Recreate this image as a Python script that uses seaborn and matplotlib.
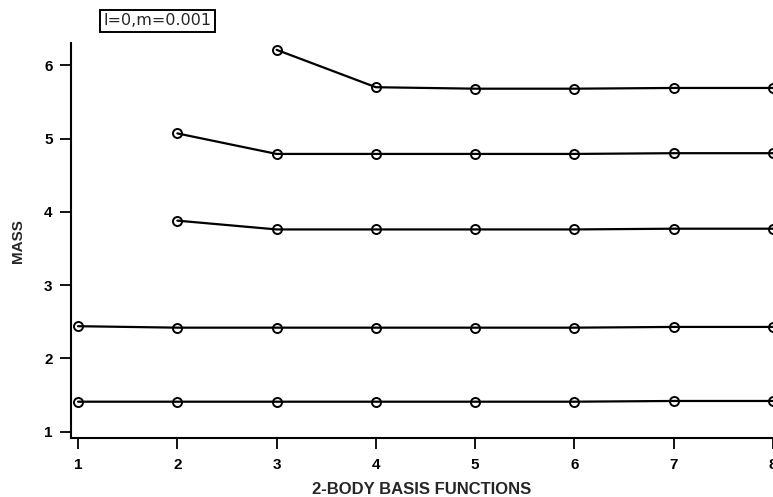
import matplotlib
matplotlib.use("Agg")
import matplotlib.pyplot as plt
import seaborn as sns
import pandas as pd

# basis size on the x axis
n_basis = [1, 2, 3, 4, 5, 6, 7, 8]

# mass levels, each starting at the first basis size where it appears
level1 = [1.41, 1.41, 1.41, 1.41, 1.41, 1.41, 1.42, 1.42]
level2 = [2.44, 2.42, 2.42, 2.42, 2.42, 2.42, 2.43, 2.43]
level3 = [3.88, 3.76, 3.76, 3.76, 3.76, 3.77, 3.77]
level4 = [5.07, 4.79, 4.79, 4.79, 4.79, 4.80, 4.80]
level5 = [6.21, 5.70, 5.68, 5.68, 5.69, 5.69]

levels = [level1, level2, level3, level4, level5]
label_text = "l=0,m=0.001"

rows = []
for i, vals in enumerate(levels):
    start = len(n_basis) - len(vals)
    for x, y in zip(n_basis[start:], vals):
        rows.append({"basis": x, "mass": y, "level": i})
df = pd.DataFrame(rows)

sns.set_style("ticks")
plt.rcParams['font.family'] = ['Liberation Sans', 'DejaVu Sans']
narrow = ['Liberation Sans Narrow', 'Liberation Sans', 'DejaVu Sans']

fig = plt.figure(figsize=(7.73, 4.97), dpi=100)
ax = fig.add_axes([0.0915, 0.118, 0.9085, 0.795])

for lvl, sub in df.groupby("level"):
    sns.lineplot(data=sub, x="basis", y="mass", ax=ax, color="black",
                 linewidth=1.6, marker="o", markersize=6.5,
                 markerfacecolor="none", markeredgecolor="black",
                 markeredgewidth=1.4, legend=False)

ax.set_xlim(0.926, 8.0)
ax.set_ylim(0.91, 6.30)
ax.set_xticks(n_basis)
ax.set_yticks([1, 2, 3, 4, 5, 6])
ax.tick_params(axis="both", direction="out", length=8, width=1.3,
               labelsize=11, colors="black")
ax.tick_params(axis="x", pad=6)
ax.tick_params(axis="y", pad=5)
for lab in ax.get_xticklabels() + ax.get_yticklabels():
    lab.set_fontweight("bold")

sns.despine(ax=ax)
for side in ["left", "bottom"]:
    ax.spines[side].set_linewidth(1.5)
    ax.spines[side].set_color("black")

ax.set_xlabel("2-BODY BASIS FUNCTIONS", fontsize=12, fontweight="bold",
              family=narrow, labelpad=7)
ax.set_ylabel("MASS", fontsize=11, fontweight="bold", family=narrow,
              labelpad=14)

fig.text(0.204, 0.958, label_text, fontsize=11.5, ha="center", va="center",
         family=['DejaVu Sans'],
         bbox=dict(boxstyle="square,pad=0.22", facecolor="white",
                   edgecolor="black", linewidth=1.4))

fig.savefig("out.png", dpi=100)
